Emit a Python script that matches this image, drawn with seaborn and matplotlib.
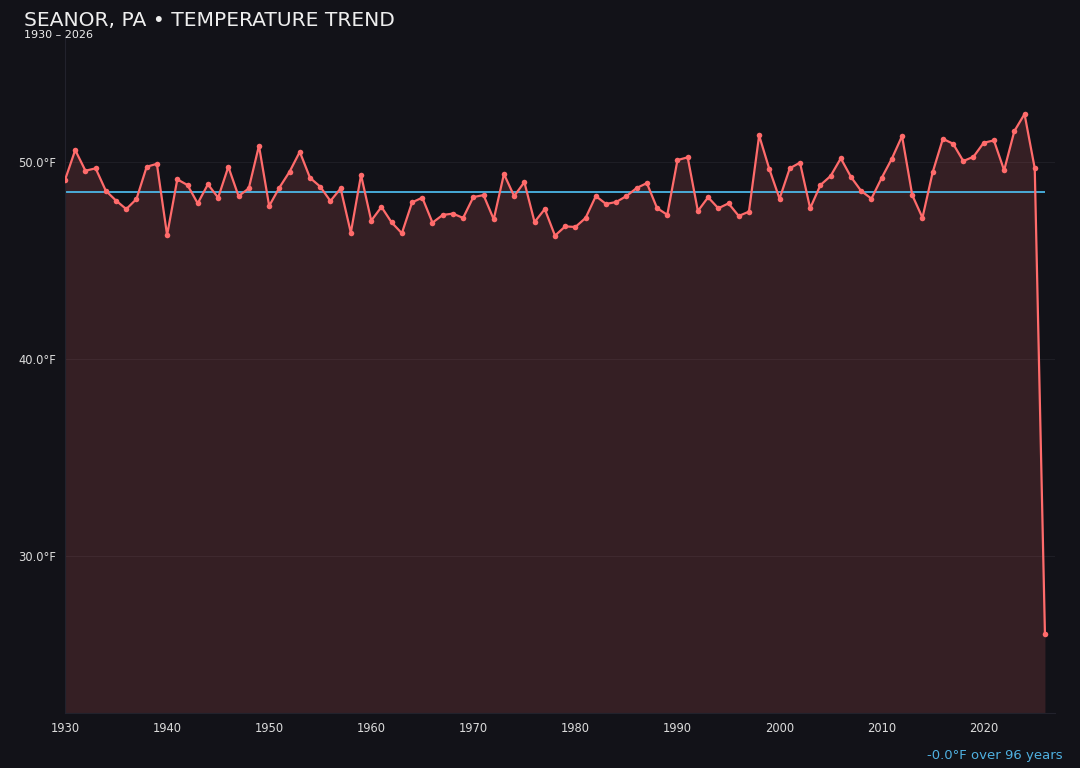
import numpy as np
import pandas as pd
import matplotlib
matplotlib.use("Agg")
import matplotlib.pyplot as plt
import seaborn as sns

# ---- data ----
years = list(range(1930, 2027))
temps = [
    49.09, 50.61, 49.56, 49.68, 48.54, 48.04, 47.61, 48.12, 49.76, 49.91,  # 1930s
    46.29, 49.12, 48.83, 47.90, 48.87, 48.19, 49.76, 48.27, 48.66, 50.83,  # 1940s
    47.77, 48.70, 49.51, 50.52, 49.20, 48.75, 48.02, 48.66, 46.41, 49.34,  # 1950s
    47.02, 47.72, 46.93, 46.38, 47.95, 48.19, 46.92, 47.31, 47.38, 47.16,  # 1960s
    48.22, 48.32, 47.09, 49.39, 48.27, 48.98, 46.95, 47.61, 46.26, 46.73,  # 1970s
    46.70, 47.16, 48.27, 47.87, 47.97, 48.27, 48.68, 48.93, 47.66, 47.32,  # 1980s
    50.10, 50.24, 47.51, 48.21, 47.65, 47.90, 47.26, 47.48, 51.35, 49.64,  # 1990s
    48.14, 49.68, 49.97, 47.65, 48.83, 49.29, 50.19, 49.24, 48.53, 48.14,  # 2000s
    49.19, 50.17, 51.32, 48.32, 47.17, 49.48, 51.18, 50.93, 50.05, 50.27,  # 2010s
    50.98, 51.10, 49.58, 51.57, 52.44, 49.68, 26.00,                       # 2020s
]
mean_temp = 48.46
y_ticks = [30, 40, 50]
x_ticks = [1930, 1940, 1950, 1960, 1970, 1980, 1990, 2000, 2010, 2020]
title = "SEANOR, PA \u2022 TEMPERATURE TREND"
subtitle = "1930 \u2013 2026"
trend_text = "-0.0\u00b0F over 96 years"

df = pd.DataFrame({"year": years, "temp": temps})

# ---- style ----
BG = "#121218"
LINE = "#ff6b6b"
MEAN = "#4fc3f7"
TXT = "#eeeeee"

sns.set_theme(style="dark")
plt.rcParams["font.family"] = ["DejaVu Sans"]

fig = plt.figure(figsize=(10.8, 7.68), dpi=100, facecolor=BG)
ax = fig.add_axes([0.0602, 0.0716, 0.9168, 0.8824])
ax.set_facecolor(BG)

ymin = min(temps) - 4
ymax = max(temps) + 4
ax.set_ylim(ymin, ymax)
ax.set_xlim(1930, 2027)

ax.fill_between(df["year"], df["temp"], ymin, color=LINE, alpha=0.15, linewidth=0, zorder=1)
sns.lineplot(data=df, x="year", y="temp", ax=ax, color=LINE, linewidth=1.6,
             marker="o", markersize=4, markeredgewidth=0, zorder=3)
ax.hlines(mean_temp, 1930, 2026, color=MEAN, linewidth=1.2, zorder=2)

ax.set_yticks(y_ticks)
ax.set_yticklabels([f"{t:.1f}\u00b0F" for t in y_ticks])
ax.set_xticks(x_ticks)
ax.set_xticklabels([str(x) for x in x_ticks])
ax.set_xlabel("")
ax.set_ylabel("")
ax.grid(axis="y", color="#1e1e25", linewidth=0.8)
ax.grid(axis="x", visible=False)
ax.tick_params(axis="both", colors="#2a2a35", labelcolor="#dcdcdc", labelsize=8.3,
               length=3, width=0.8)
for side in ["top", "right"]:
    ax.spines[side].set_visible(False)
for side in ["left", "bottom"]:
    ax.spines[side].set_color("#22222c")
    ax.spines[side].set_linewidth(0.8)

fig.text(24 / 1080, 1 - 21 / 768, title, color=TXT, fontsize=14.6, va="center", ha="left")
fig.text(24 / 1080, 1 - 35 / 768, subtitle, color=TXT, fontsize=8, va="center", ha="left")
fig.text(1063 / 1080, 1 - 755 / 768, trend_text, color="#4fb0e0", fontsize=9.5,
         va="center", ha="right")

fig.savefig("out.png", dpi=100, facecolor=BG)
